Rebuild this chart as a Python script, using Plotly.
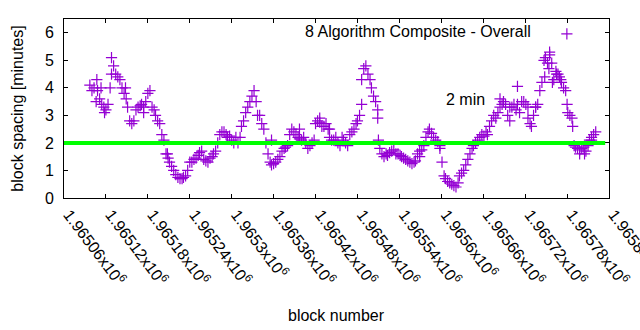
import numpy as np
import plotly.graph_objects as go

# ---------------- data ----------------
FIRST_BLOCK = 1965097
LAST_BLOCK = 1965821

spacing_main = [
    4.1, 3.9, 4.0, 3.5, 3.9, 3.6, 3.4, 3.3, 3.2, 3.4,
    4.0, 4.5, 4.8, 4.5, 4.4, 4.3, 4.0, 3.8, 3.6, 3.3,
    2.8, 2.7, 2.8, 3.2, 3.3, 3.35, 3.4, 3.3, 3.5, 3.8,
    3.9, 3.3, 3.2, 3.0, 2.8, 2.7, 2.3, 2.1, 1.6, 1.45,
    1.3, 1.15, 1.0, 0.85, 0.75, 0.7, 0.7, 0.75, 0.8, 1.0,
    1.3, 1.3, 1.4, 1.45, 1.55, 1.65, 1.7, 1.4, 1.35, 1.3,
    1.45, 1.5, 1.6, 1.7, 2.0, 2.3, 2.4, 2.4, 2.3, 2.2,
    2.25, 2.1, 2.0, 2.2, 2.0, 2.2, 2.6, 2.8, 3.1, 3.3,
    3.5, 3.7, 3.9, 3.5, 3.0, 3.0, 2.7, 2.5, 2.0, 1.6,
    1.3, 1.2, 1.25, 1.3, 1.4, 1.5, 1.7, 1.8, 1.85, 1.9,
    2.3, 2.5, 2.4, 2.3, 2.2, 2.15, 2.1, 2.2, 2.0, 1.8,
    1.9, 2.0, 2.1, 2.7, 2.8, 2.75, 2.6, 2.6, 2.7, 2.5,
    2.2, 2.1, 2.1, 2.2, 2.0, 1.9, 2.2, 2.1, 2.0, 1.9,
    2.3, 2.4, 2.5, 2.7, 2.8, 3.0, 4.3, 4.7, 4.8, 4.5,
    4.3, 4.0, 3.7, 3.5, 3.2, 1.8, 1.6, 1.5, 1.6, 1.55,
    1.65, 1.7, 1.75, 1.6, 1.6, 1.55, 1.5, 1.45, 1.4, 1.35,
    1.3, 1.25, 1.3, 1.35, 1.6, 1.7, 1.75, 1.9, 2.2, 2.4,
    2.5, 2.35, 2.2, 2.1, 2.05, 1.9, 1.3, 0.8, 0.7, 0.6,
    0.55, 0.5, 0.45, 0.4, 0.55, 0.8, 0.9, 1.0, 1.2, 1.4,
    1.6, 1.8, 1.9, 2.0, 2.1, 2.2, 2.3, 2.25, 2.4, 2.3,
    2.6, 2.8, 3.0, 2.9, 3.1, 3.3, 3.4, 3.5, 3.4, 3.0,
    2.8, 3.3, 3.4, 3.2, 3.4, 3.1, 3.5, 3.5, 3.4, 2.9,
    2.7, 2.6, 3.0, 3.3, 3.4, 3.9, 4.2, 5.0, 5.1, 4.9,
    5.2, 4.9, 4.3, 4.6, 4.5, 4.4, 4.2, 4.0, 3.9, 3.1,
    3.0, 2.9, 1.9, 1.85, 1.8, 1.75, 1.8, 1.85, 1.7, 1.9,
    2.1, 2.2, 2.3, 2.4,
]

extra_blocks = [
    1965107, 1965113, 1965118, 1965128, 1965148, 1965174, 1965208,
    1965357, 1965397, 1965426, 1965440, 1965486, 1965509, 1965510,
    1965569, 1965598, 1965684, 1965698, 1965709, 1965724, 1965735,
    1965748, 1965754, 1965755, 1965759, 1965765, 1965771, 1965780,
    1965788, 1965798, 1965805, 1965815,
]
extra_spacing = [
    4.3, 4.0, 3.1, 5.1, 4.0, 3.1, 1.6,
    2.1, 2.5, 2.9, 2.5, 3.4, 2.9, 2.1,
    1.5, 1.8, 3.6, 3.3, 4.05, 3.3, 3.3,
    4.4, 4.7, 5.3, 4.2, 4.5, 4.3, 3.4,
    2.6, 1.6, 1.6, 2.1,
]

TARGET_MINUTES = 2
TARGET_LABEL = "2 min"
TARGET_LABEL_POS = (1965634, 3.58)
SERIES_NAME = "8 Algorithm Composite - Overall"
X_TITLE = "block number"
Y_TITLE = "block spacing [minutes]"

x_ticks = [1965060 + 60 * k for k in range(14)]
x_tick_labels = [
    "1.96506x10<sup>6</sup>", "1.96512x10<sup>6</sup>", "1.96518x10<sup>6</sup>",
    "1.96524x10<sup>6</sup>", "1.9653x10<sup>6</sup>", "1.96536x10<sup>6</sup>",
    "1.96542x10<sup>6</sup>", "1.96548x10<sup>6</sup>", "1.96554x10<sup>6</sup>",
    "1.9656x10<sup>6</sup>", "1.96566x10<sup>6</sup>", "1.96572x10<sup>6</sup>",
    "1.96578x10<sup>6</sup>", "1.96584x10<sup>6</sup>",
]
y_ticks = [0, 1, 2, 3, 4, 5, 6]
X_RANGE = [1965060, 1965840]
Y_RANGE = [0, 6.5]

# ---------------- figure ----------------
main_blocks = np.round(np.linspace(FIRST_BLOCK, LAST_BLOCK, len(spacing_main))).astype(int)
all_x = list(main_blocks) + extra_blocks
all_y = spacing_main + extra_spacing

PURPLE = "#9400D3"
FONT = "Liberation Sans, Arial, sans-serif"
TXT = dict(size=16, family=FONT, color="black")

fig = go.Figure()
fig.add_trace(go.Scatter(
    x=all_x, y=all_y, mode="markers", name=" ",
    marker=dict(symbol="cross-thin", size=8, color=PURPLE,
                line=dict(color=PURPLE, width=1.2)),
    showlegend=True,
))

fig.add_shape(type="line", xref="paper", x0=0, x1=0.993, yref="y",
              y0=TARGET_MINUTES, y1=TARGET_MINUTES,
              line=dict(color="#00FF00", width=4), layer="above")

fig.add_annotation(x=TARGET_LABEL_POS[0], y=TARGET_LABEL_POS[1], text=TARGET_LABEL,
                   showarrow=False, font=TXT)

# key text (gnuplot places the sample to the right of the text)
fig.add_annotation(xref="paper", yref="paper", x=0.8606, y=0.930, text=SERIES_NAME,
                   showarrow=False, xanchor="right", yanchor="middle", font=TXT)

fig.add_annotation(xref="paper", yref="paper", x=0.5, y=-0.654, text=X_TITLE,
                   showarrow=False, xanchor="center", yanchor="middle", font=TXT)
fig.add_annotation(xref="paper", yref="paper", x=-0.086, y=0.5, text=Y_TITLE,
                   textangle=-90, showarrow=False, xanchor="center", yanchor="middle",
                   font=TXT)

axis_common = dict(showline=True, linecolor="black", linewidth=1, mirror="allticks",
                   ticks="inside", ticklen=4, tickcolor="black", showgrid=False,
                   zeroline=False, automargin=False)

fig.update_xaxes(range=X_RANGE, tickvals=x_ticks, ticktext=x_tick_labels,
                 tickangle=53, tickfont=TXT, ticklabelshift=5,
                 ticklabeloverflow="allow", **axis_common)
fig.update_yaxes(range=Y_RANGE, tickvals=y_ticks, tickfont=TXT,
                 ticklabelstandoff=6, **axis_common)

fig.update_layout(
    width=640, height=330,
    margin=dict(l=64, r=31, t=19, b=132),
    plot_bgcolor="white", paper_bgcolor="white",
    font=TXT,
    showlegend=True,
    legend=dict(x=0.886, y=1.011, xanchor="left", yanchor="top",
                bgcolor="rgba(0,0,0,0)", borderwidth=0,
                font=TXT, itemwidth=30),
)

fig.write_html("out.html")
